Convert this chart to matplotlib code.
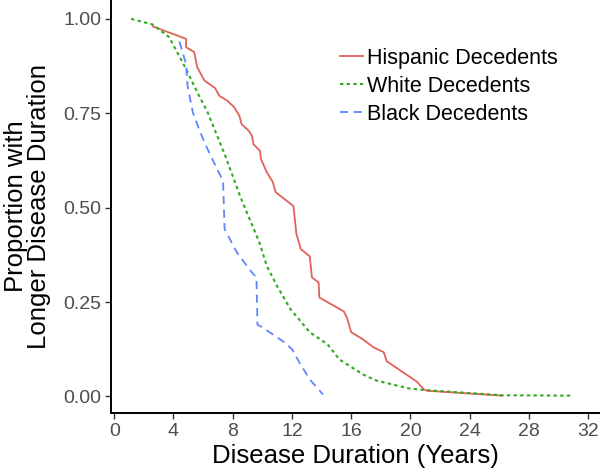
import matplotlib
matplotlib.use('Agg')
import matplotlib.pyplot as plt

plt.rcParams['font.family'] = ['Liberation Sans', 'DejaVu Sans']

# survival curves (years, proportion)
hisp_x = [2.6, 4.85, 4.85, 5.4, 5.6, 6.1, 6.8, 7.1, 7.65, 8.1, 8.45, 8.6, 9.1, 9.3, 9.4, 9.85,
          9.9, 10.3, 10.7, 10.9, 12.1, 12.3, 12.6, 13.2, 13.35, 13.8, 13.85, 15.5, 15.7, 16.0,
          16.8, 17.5, 18.2, 18.4, 20.4, 20.9, 21.1, 26.2]
hisp_y = [0.98, 0.947, 0.925, 0.912, 0.872, 0.836, 0.817, 0.796, 0.783, 0.766, 0.743, 0.721,
          0.703, 0.69, 0.668, 0.65, 0.629, 0.594, 0.568, 0.541, 0.504, 0.43, 0.39, 0.371, 0.315,
          0.302, 0.262, 0.225, 0.21, 0.17, 0.151, 0.13, 0.117, 0.093, 0.04, 0.019, 0.015, 0.002]

white_x = [1.14, 2.6, 3.7, 4.85, 5.6, 6.3, 7.5, 8.5, 9.0, 9.8, 10.3, 11.0, 11.9, 13.2, 14.4,
           15.2, 16.8, 17.7, 19.9, 20.9, 26.2, 30.8]
white_y = [1.0, 0.985, 0.952, 0.867, 0.806, 0.753, 0.637, 0.53, 0.483, 0.408, 0.345, 0.292,
           0.231, 0.17, 0.138, 0.098, 0.058, 0.042, 0.021, 0.017, 0.003, 0.002]

black_x = [4.4, 4.85, 4.95, 5.3, 5.8, 6.3, 6.85, 7.35, 7.45, 8.3, 9.3, 9.6, 9.67, 10.0, 11.5,
           12.0, 12.5, 13.2, 14.1]
black_y = [0.94, 0.88, 0.823, 0.753, 0.70, 0.655, 0.61, 0.57, 0.443, 0.38, 0.328, 0.315, 0.19,
           0.183, 0.143, 0.125, 0.09, 0.045, 0.005]

x_ticks = [0, 4, 8, 12, 16, 20, 24, 28, 32]
y_ticks = [0.0, 0.25, 0.5, 0.75, 1.0]

fig = plt.figure(figsize=(6, 4.75), dpi=100)
ax = fig.add_axes([0.185, 0.1305, 0.815, 0.8695])

ax.plot(hisp_x, hisp_y, color='#E0625A', linewidth=1.3, label='Hispanic Decedents')
ax.plot(white_x, white_y, color='#2EAA1E', linewidth=1.5, linestyle=(0, (1.6, 1.6)),
        label='White Decedents')
ax.plot(black_x, black_y, color='#5F86FF', linewidth=1.3, linestyle=(0, (4.5, 3)),
        label='Black Decedents')

ax.set_xlim(-0.22, 32.8)
ax.set_ylim(-0.044, 1.05)
ax.set_xticks(x_ticks)
ax.set_xticklabels([str(t) for t in x_ticks])
ax.set_yticks(y_ticks)
ax.set_yticklabels(['%.2f' % t for t in y_ticks])
ax.tick_params(labelsize=14, labelcolor='#4D4D4D', length=4, width=1.0, color='#333333', pad=3)

for side in ['top', 'right']:
    ax.spines[side].set_visible(False)
for side in ['left', 'bottom']:
    ax.spines[side].set_linewidth(1.4)

ax.set_xlabel('Disease Duration (Years)', fontsize=18.5, labelpad=3)
ax.set_ylabel('Proportion with\nLonger Disease Duration', fontsize=18.5, labelpad=9,
              linespacing=0.95)

ax.legend(loc='upper left', bbox_to_anchor=(0.468, 0.884), frameon=False, fontsize=15.5,
          borderpad=0, borderaxespad=0, handlelength=1.07, handletextpad=0.19,
          labelspacing=0.32)

fig.savefig('out.png', dpi=100)
